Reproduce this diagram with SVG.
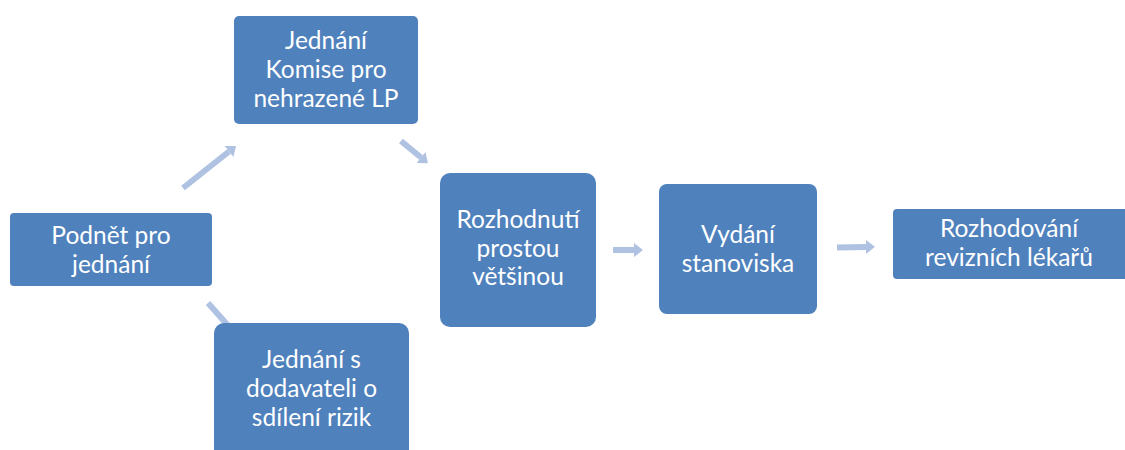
<svg xmlns="http://www.w3.org/2000/svg" width="1125" height="450" viewBox="0 0 1125 450">
<style>
.box{fill:#4F81BD;}
.t{font-family:Lato,"Open Sans","Liberation Sans",sans-serif;font-size:24.5px;fill:#fff;text-anchor:middle;}
.c{stroke:#AFC2E2;stroke-width:6;fill:none;}
</style>
<defs>
<marker id="ah" markerUnits="userSpaceOnUse" markerWidth="9" markerHeight="14" refX="0" refY="7" orient="auto">
<path d="M0,0 L9,7 L0,14 z" fill="#AFC2E2"/>
</marker>
</defs>
<rect width="1125" height="450" fill="#fff"/>
<g id="connectors">
<line class="c" x1="183" y1="188" x2="229" y2="151.5" marker-end="url(#ah)"/>
<line class="c" x1="401" y1="141" x2="421" y2="157.5" marker-end="url(#ah)"/>
<line class="c" x1="613" y1="250" x2="634" y2="250" marker-end="url(#ah)"/>
<line class="c" x1="837" y1="247.5" x2="866" y2="247" marker-end="url(#ah)"/>
<line class="c" x1="208" y1="303" x2="232" y2="330" marker-end="url(#ah)"/>
</g>
<g id="n1">
<rect class="box" x="10" y="213" width="202" height="73" rx="4"/>
<text class="t" x="111" y="244">Podnět pro</text>
<text class="t" x="111" y="273">jednání</text>
</g>
<g id="n2">
<rect class="box" x="234" y="16" width="184" height="108" rx="5"/>
<text class="t" x="326" y="49">Jednání</text>
<text class="t" x="326" y="78">Komise pro</text>
<text class="t" x="326" y="107">nehrazené LP</text>
</g>
<g id="n3">
<rect class="box" x="214" y="323" width="195" height="150" rx="10"/>
<text class="t" x="311.5" y="368">Jednání s</text>
<text class="t" x="311.5" y="397">dodavateli o</text>
<text class="t" x="311.5" y="426">sdílení rizik</text>
</g>
<g id="n4">
<rect class="box" x="440" y="173" width="156" height="154" rx="10"/>
<text class="t" x="518" y="228">Rozhodnutí</text>
<text class="t" x="518" y="257">prostou</text>
<text class="t" x="518" y="285">většinou</text>
</g>
<g id="n5">
<rect class="box" x="659" y="184" width="158" height="130" rx="8"/>
<text class="t" x="738" y="243">Vydání</text>
<text class="t" x="738" y="272">stanoviska</text>
</g>
<g id="n6">
<rect class="box" x="893" y="209" width="245" height="70" rx="4"/>
<text class="t" x="1009" y="237">Rozhodování</text>
<text class="t" x="1009" y="266">revizních lékařů</text>
</g>
</svg>
